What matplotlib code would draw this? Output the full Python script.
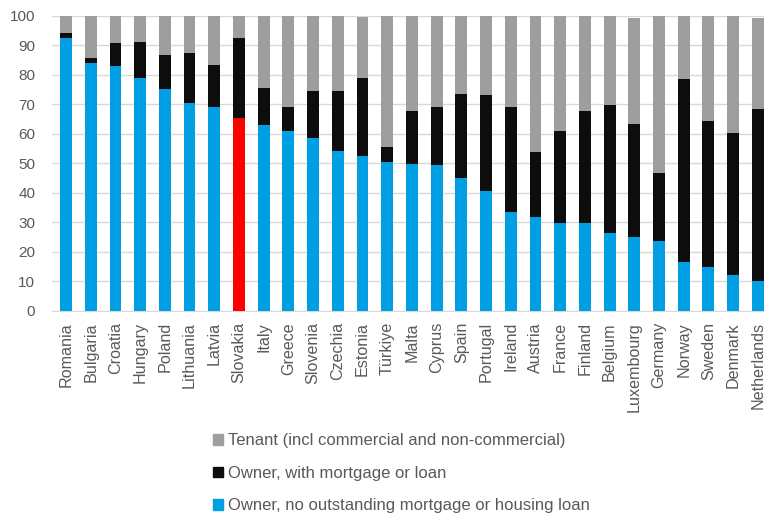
import matplotlib.pyplot as plt
import numpy as np

plt.rcParams['font.family'] = ['Liberation Sans', 'DejaVu Sans']

countries = ['Romania', 'Bulgaria', 'Croatia', 'Hungary', 'Poland', 'Lithuania', 'Latvia',
             'Slovakia', 'Italy', 'Greece', 'Slovenia', 'Czechia', 'Estonia', 'Türkiye',
             'Malta', 'Cyprus', 'Spain', 'Portugal', 'Ireland', 'Austria', 'France',
             'Finland', 'Belgium', 'Luxembourg', 'Germany', 'Norway', 'Sweden',
             'Denmark', 'Netherlands']

# Owner, no outstanding mortgage or housing loan
no_loan = [92.7, 84.2, 83.1, 79.0, 75.1, 70.4, 69.3, 65.5, 62.9, 61.1, 58.5, 54.2, 52.7, 50.6,
           49.8, 49.4, 45.0, 40.7, 33.7, 31.8, 29.9, 29.7, 26.6, 25.0, 23.8, 16.7, 15.0,
           12.2, 10.3]
# Owner, with mortgage or loan
mortgage = [1.4, 1.7, 7.6, 12.2, 11.7, 16.9, 14.0, 27.2, 12.6, 8.2, 16.1, 20.4, 26.2, 5.0,
            18.0, 19.9, 28.6, 32.4, 35.6, 22.2, 31.0, 38.1, 43.1, 38.4, 23.1, 61.8, 49.3,
            48.3, 58.1]
# Tenant
tenant = [5.9, 14.1, 9.3, 8.8, 13.2, 12.7, 16.7, 7.3, 24.5, 30.7, 25.4, 25.4, 20.6, 44.4,
          32.2, 30.7, 26.4, 26.9, 30.7, 46.0, 39.1, 32.2, 30.3, 36.0, 53.1, 21.5, 35.7,
          39.5, 31.0]

blue = '#009FE3'
black = '#0d0d0d'
grey = '#9e9e9e'
text_col = '#595959'

x = np.arange(len(countries))
no_loan = np.array(no_loan)
mortgage = np.array(mortgage)
tenant = np.array(tenant)

bar_colors = [blue] * len(countries)
bar_colors[countries.index('Slovakia')] = '#ff0000'

fig = plt.figure(figsize=(7.64, 5.17), dpi=100)
ax = fig.add_axes([0.068, 0.3985, 0.932, 0.5706])

w = 0.48
ax.bar(x, no_loan, w, color=bar_colors, zorder=3)
ax.bar(x, mortgage, w, bottom=no_loan, color=black, zorder=3)
ax.bar(x, tenant, w, bottom=no_loan + mortgage, color=grey, zorder=3)

ax.set_xlim(-0.57, 28.25)
ax.set_ylim(0, 100)
ax.set_yticks(range(0, 101, 10))
ax.yaxis.grid(True, color='#d9d9d9', lw=1, zorder=0)
for s in ['top', 'right', 'left']:
    ax.spines[s].set_visible(False)
ax.spines['bottom'].set_color('#d9d9d9')
ax.tick_params(axis='y', length=0, colors=text_col, labelsize=11, pad=12)
ax.tick_params(axis='x', length=0, colors=text_col, labelsize=11.6, pad=8)
ax.set_xticks(x)
ax.set_xticklabels(countries, rotation=90)

# legend, stacked vertically below the chart
labels = ['Tenant (incl commercial and non-commercial)',
          'Owner, with mortgage or loan',
          'Owner, no outstanding mortgage or housing loan']
cols = [grey, black, blue]
handles = [plt.Rectangle((0, 0), 1, 1, color=c) for c in cols]
fig.legend(handles, labels, loc='upper left', bbox_to_anchor=(0.268, 0.178), frameon=False,
           fontsize=12, labelcolor=text_col, handlelength=0.6, handleheight=0.6,
           handletextpad=0.3, labelspacing=1.05, borderpad=0)

fig.savefig('out.png', dpi=100)
